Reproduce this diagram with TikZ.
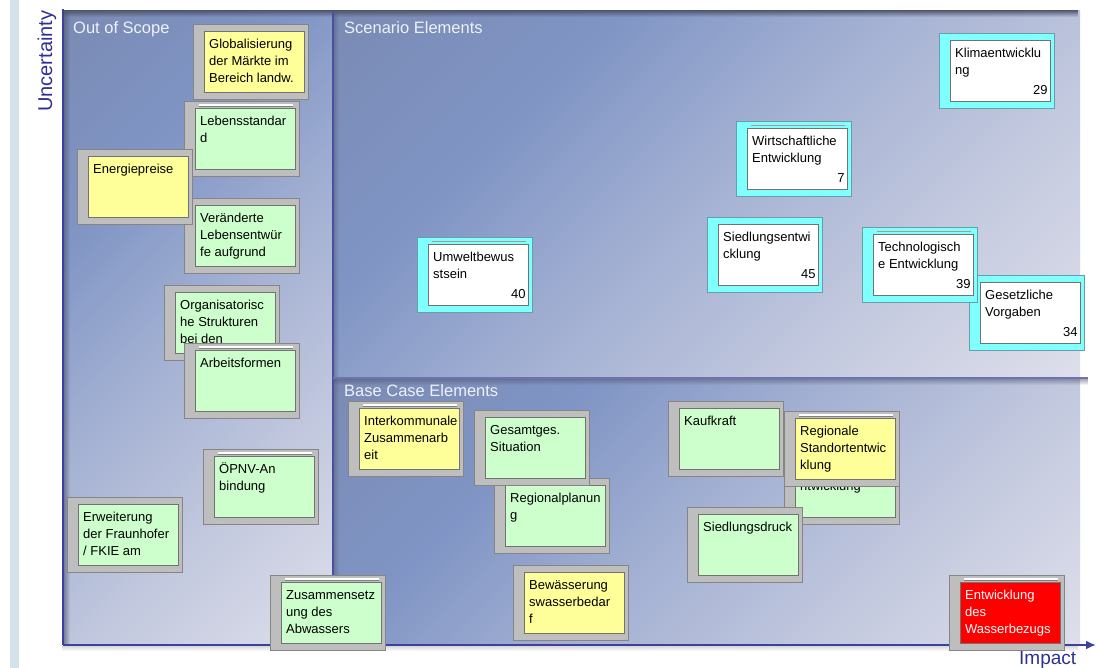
\documentclass[tikz,border=0pt]{standalone}
\usepackage{fontspec}
\setmainfont{Liberation Sans}
\usetikzlibrary{calc,fadings,arrows.meta}
\definecolor{stripc}{HTML}{D6E2EA}
\definecolor{axisc}{HTML}{3C40A0}
\definecolor{divc}{HTML}{4A4F9E}
\definecolor{labelc}{HTML}{2E3192}
\definecolor{regionc}{HTML}{EEF1F7}
\definecolor{bgA}{HTML}{7A8AB4}
\definecolor{bgB}{HTML}{8095C5}
\definecolor{bgC}{HTML}{A4B1D3}
\definecolor{bgD}{HTML}{C4CADF}
\definecolor{bgE}{HTML}{DDDEEA}
\definecolor{greenc}{HTML}{CCFFCC}
\definecolor{yellowc}{HTML}{FFFF99}
\definecolor{cyanc}{HTML}{80FFFF}
\definecolor{redc}{HTML}{FF0000}
\definecolor{grayframe}{HTML}{BEBEBE}
\definecolor{grayedge}{HTML}{858585}
\definecolor{cyanedge}{HTML}{6A9EA6}
\definecolor{inedge}{HTML}{727272}
\definecolor{shadowc}{HTML}{4E556C}
\definecolor{clinec}{HTML}{A89898}
\pgfdeclarehorizontalshading{panelshade}{100bp}{color(0bp)=(bgA); color(15bp)=(bgA); color(33bp)=(bgB); color(50bp)=(bgC); color(68bp)=(bgD); color(85bp)=(bgE); color(100bp)=(bgE)}
\tikzset{
  frameG/.style={fill=grayframe, draw=grayedge, line width=0.8pt},
  frameC/.style={fill=cyanc, draw=cyanedge, line width=0.8pt},
  inbox/.style={draw=inedge, line width=0.8pt},
  boxtxt/.style={font=\fontsize{13}{17}\selectfont, align=left, inner sep=0pt, anchor=north west},
  numtxt/.style={font=\fontsize{13}{17}\selectfont, inner sep=0pt, anchor=base east},
  regionlbl/.style={font=\fontsize{16.5}{18}\selectfont, text=regionc, anchor=base west, inner sep=0pt},
  axislbl/.style={text=labelc, inner sep=0pt, anchor=base west},
  panel/.style={shading=panelshade, shading angle=-45},
}
\newcommand\elembox[7]{%
  \node[#4, minimum width=115pt, minimum height=75pt, inner sep=0pt, anchor=north west] (#1) at (#2,#3) {};
  \node[inbox, fill=#5, minimum width=100pt, minimum height=61pt, inner sep=0pt, anchor=north west] (#1-in) at ($(#1.north west)+(11,7)$) {};
  \node[boxtxt, text=#7] (#1-t) at ($(#1-in.north west)+(5,4)$) {\rule{0pt}{13pt}#6};
}
\newcommand\toplineG[1]{%
  \draw[white, line width=1.2pt] ($(#1.north west)+(15,4)$) -- ($(#1.north east)+(-7,4)$);
  \draw[gray, line width=0.5pt] ($(#1.north west)+(15,5.3)$) -- ($(#1.north east)+(-7,5.3)$);}
\newcommand\toplineC[1]{%
  \draw[clinec, line width=0.9pt] ($(#1.north west)+(15,4)$) -- ($(#1.north east)+(-7,4)$);}
\newcommand\boxnum[2]{\node[numtxt] (#1-n) at ($(#1-in.south east)+(-3,-7)$) {#2};}
\begin{document}
\begin{tikzpicture}[x=1pt,y=-1pt]
\useasboundingbox (0,0) rectangle (1096,668);
\fill[white] (0,0) rectangle (1096,668);
% left strip
\fill[stripc] (10,0) rectangle (19,668);
% panels
\shade[panel] (63,11) rectangle (333,645);
\shade[panel] (333,11) rectangle (1080,378);
\shade[panel] (333,378) rectangle (1080,645);
% shadows
\fill[shadowc, path fading=south] (63,10) rectangle (1080,17);
\fill[shadowc, path fading=east, opacity=0.6] (64,11) rectangle (70,645);
\fill[shadowc, path fading=east, opacity=0.4] (334,11) rectangle (339,645);
\fill[shadowc, path fading=south, opacity=0.5] (333,379) rectangle (1088,385);
\fill[gray, path fading=south, opacity=0.3] (63,646) rectangle (1080,651);
% dividers
\coordinate (dtop) at (333,11);
\coordinate (dbot) at (333,645);
\coordinate (hl) at (333,378);
\coordinate (hr) at (1088,378);
\draw[divc, line width=1.5pt] (dtop) -- (dbot);
\draw[divc!80!white, line width=1.5pt] (hl) -- (hr);
% axes
\coordinate (o) at (63,645);
\coordinate (ytop) at (63,9);
\coordinate (xend) at (1096,645);
\draw[axisc, line width=2pt] (ytop) -- (o);
\draw[axisc, line width=2pt, -{Latex[length=10pt,width=9pt]}] (o) -- (xend);
% region labels
\node[regionlbl] (oos) at (73,34) {Out of Scope};
\node[regionlbl] (scen) at (344,34) {Scenario Elements};
% out of scope boxes
\elembox{glob}{193}{24}{frameG}{yellowc}{Globalisierung\\der Märkte im\\Bereich landw.}{black}
\elembox{leb}{184}{101}{frameG}{greenc}{Lebensstandar\\d}{black}\toplineG{leb}
\elembox{ver}{184}{198}{frameG}{greenc}{Veränderte\\Lebensentwür\\fe aufgrund}{black}
\elembox{ener}{77}{149}{frameG}{yellowc}{Energiepreise}{black}
\elembox{orga}{164}{285}{frameG}{greenc}{Organisatorisc\\he Strukturen\\bei den}{black}
\elembox{arb}{184}{343}{frameG}{greenc}{Arbeitsformen}{black}\toplineG{arb}
\elembox{oepnv}{203}{449}{frameG}{greenc}{ÖPNV-An\\bindung}{black}\toplineG{oepnv}
\elembox{erw}{67}{497}{frameG}{greenc}{Erweiterung\\der Fraunhofer\\/ FKIE am}{black}
\elembox{zus}{270}{575}{frameG}{greenc}{Zusammensetz\\ung des\\Abwassers}{black}\toplineG{zus}
% scenario boxes
\elembox{klima}{939}{33}{frameC}{white}{Klimaentwicklu\\ng}{black}\boxnum{klima}{29}
\elembox{wirt}{736}{121}{frameC}{white}{Wirtschaftliche\\Entwicklung}{black}\toplineC{wirt}\boxnum{wirt}{7}
\elembox{umw}{417}{237}{frameC}{white}{Umweltbewus\\stsein}{black}\toplineC{umw}\boxnum{umw}{40}
\elembox{sied}{707}{217}{frameC}{white}{Siedlungsentwi\\cklung}{black}\boxnum{sied}{45}
\elembox{ges}{969}{275}{frameC}{white}{Gesetzliche\\Vorgaben}{black}\boxnum{ges}{34}
\elembox{tech}{862}{227}{frameC}{white}{Technologisch\\e Entwicklung}{black}\toplineC{tech}\boxnum{tech}{39}
% base case boxes
\node[regionlbl] (base) at (344,397) {Base Case Elements};
\elembox{inter}{348}{401}{frameG}{yellowc}{Interkommunale\\Zusammenarb\\eit}{black}\toplineG{inter}
\elembox{regp}{494}{478}{frameG}{greenc}{Regionalplanun\\g}{black}
\elembox{gesamt}{474}{410}{frameG}{greenc}{Gesamtges.\\Situation}{black}
\elembox{bew}{513}{565}{frameG}{yellowc}{Bewässerung\\swasserbedar\\f}{black}
\elembox{kauf}{668}{401}{frameG}{greenc}{Kaufkraft}{black}
\elembox{hid}{784}{449}{frameG}{greenc}{\\ntwicklung}{black}
\elembox{sdruck}{687}{507}{frameG}{greenc}{Siedlungsdruck}{black}
\elembox{regst}{784}{411}{frameG}{yellowc}{Regionale\\Standortentwic\\klung}{black}\toplineG{regst}
\elembox{wass}{949}{575}{frameG}{redc}{Entwicklung\\des\\Wasserbezugs}{white}\toplineG{wass}
% axis labels
\node[axislbl, font=\fontsize{20}{22}\selectfont, rotate=90] (unc) at (52,112) {Uncertainty};
\node[axislbl, font=\fontsize{19}{21}\selectfont] (imp) at (1019,664) {Impact};
\end{tikzpicture}
\end{document}
